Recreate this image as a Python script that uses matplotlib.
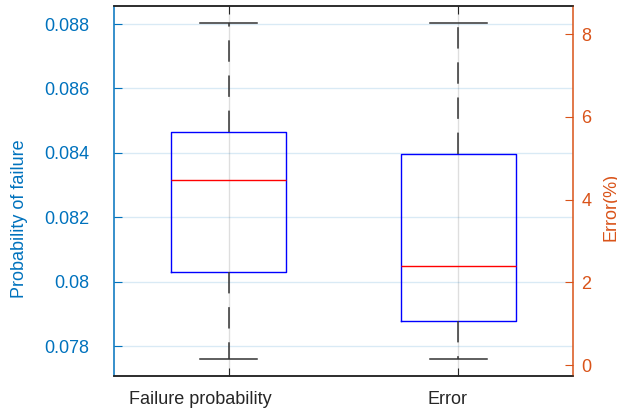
import matplotlib
matplotlib.use('Agg')
import matplotlib.pyplot as plt
from matplotlib.transforms import ScaledTranslation

# box statistics
categories = ['Failure probability', 'Error']
pf_stats = {'whislo': 0.07760, 'q1': 0.08030, 'med': 0.08316, 'q3': 0.08466, 'whishi': 0.08804}
err_stats = {'whislo': 0.155, 'q1': 1.06, 'med': 2.39, 'q3': 5.10, 'whishi': 8.28}
left_ticks = [0.078, 0.080, 0.082, 0.084, 0.086, 0.088]
left_ticklabels = ['0.078', '0.08', '0.082', '0.084', '0.086', '0.088']
right_ticks = [0, 2, 4, 6, 8]

blue_ax = '#0072BD'
orange_ax = '#D95319'
dark = '#262626'

plt.rcParams['font.family'] = ['Liberation Sans', 'DejaVu Sans']
plt.rcParams['font.size'] = 13

fig = plt.figure(figsize=(6.17, 4.13), dpi=100)
ax = fig.add_axes([0.1848, 0.0896, 0.7439, 0.8959])
ax2 = ax.twinx()

box_kw = dict(
    widths=0.5, showfliers=False, patch_artist=False,
    boxprops=dict(color='blue', linewidth=1.0),
    medianprops=dict(color='red', linewidth=1.0),
    whiskerprops=dict(color='#333333', linewidth=1.1, linestyle=(0, (14, 9))),
    capprops=dict(color='#333333', linewidth=1.1),
    capwidths=0.25,
)

def stats(d, label):
    s = dict(d)
    s['label'] = label
    s['fliers'] = []
    return s

ax.bxp([stats(pf_stats, categories[0])], positions=[1], **box_kw)
ax2.bxp([stats(err_stats, categories[1])], positions=[2], **box_kw)

ax.set_xlim(0.5, 2.5)
ax.set_ylim(0.07707, 0.08856)
ax2.set_ylim(-0.26, 8.68)

ax.set_xticks([1, 2])
ax.set_xticklabels(categories, color=dark)
ax.set_yticks(left_ticks)
ax.set_yticklabels(left_ticklabels)
ax2.set_yticks(right_ticks)

# grid
ax.yaxis.grid(True, color=blue_ax, alpha=0.15, linewidth=1.0)
ax.xaxis.grid(True, color=dark, alpha=0.15, linewidth=1.0)
ax.set_axisbelow(True)

ax.tick_params(axis='y', direction='in', length=6, colors=blue_ax, pad=18)
ax.tick_params(axis='x', direction='in', length=6, color=dark, pad=11, top=True)
ax2.tick_params(axis='y', direction='in', length=6, colors=orange_ax, pad=6)

for side in ['top', 'bottom']:
    ax.spines[side].set_color(dark)
    ax2.spines[side].set_color(dark)
ax.spines['left'].set_color(blue_ax)
ax2.spines['left'].set_visible(False)
ax2.spines['right'].set_color(orange_ax)
ax.spines['right'].set_visible(False)
for sp in list(ax.spines.values()) + list(ax2.spines.values()):
    sp.set_linewidth(1.1)

ax.set_ylabel('Probability of failure', color=blue_ax)
ax.yaxis.set_label_coords(-0.187, 0.424)
ax2.set_ylabel('Error(%)', color=orange_ax, rotation=90)
ax2.yaxis.set_label_coords(1.065, 0.457)

# category labels sit a bit left of the tick positions
for lab, dx in zip(ax.get_xticklabels(), [-28, -11]):
    lab.set_transform(lab.get_transform() + ScaledTranslation(dx / 100, 0, fig.dpi_scale_trans))

fig.savefig('out.png', dpi=100)
